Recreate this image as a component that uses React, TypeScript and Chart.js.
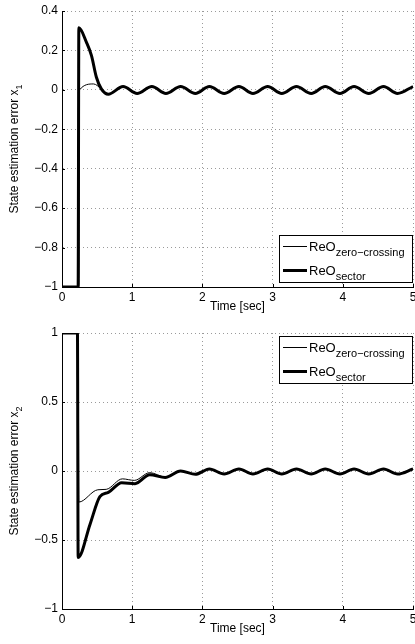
import React, { useEffect, useRef } from "react";
import { Chart, registerables } from "chart.js";

Chart.register(...registerables);

const FONT = '"Liberation Sans", Arial, Helvetica, sans-serif';

// ---- Data ----
const X_TICKS = [0, 1, 2, 3, 4, 5];
const X1_TICKS = [-1, -0.8, -0.6, -0.4, -0.2, 0, 0.2, 0.4];
const X2_TICKS = [-1, -0.5, 0, 0.5, 1];

// State estimation error x1
const X1_SECTOR_T = [0, 0.23, 0.24, 0.35, 0.42, 0.49, 0.56, 0.66, 0.87, 1.07, 1.28, 1.48, 1.69, 1.9, 2.1, 2.31, 2.52, 2.72, 2.93, 3.13, 3.34, 3.55, 3.75, 3.96, 4.16, 4.37, 4.58, 4.78, 5.0];
const X1_SECTOR_V = [-1, -1, 0.315, 0.24, 0.174, 0.064, 0.005, -0.022, 0.017, -0.018, 0.017, -0.018, 0.017, -0.018, 0.017, -0.018, 0.017, -0.018, 0.017, -0.018, 0.017, -0.018, 0.017, -0.018, 0.017, -0.018, 0.017, -0.018, 0.017];
const X1_ZERO_T = [0, 0.24, 0.25, 0.45, 0.56, 0.66, 0.87, 1.07, 1.28, 1.48, 1.69, 1.9, 2.1, 2.31, 2.52, 2.72, 2.93, 3.13, 3.34, 3.55, 3.75, 3.96, 4.16, 4.37, 4.58, 4.78, 5.0];
const X1_ZERO_V = [-1, -1, 0.0, 0.03, 0.005, -0.022, 0.017, -0.018, 0.017, -0.018, 0.017, -0.018, 0.017, -0.018, 0.017, -0.018, 0.017, -0.018, 0.017, -0.018, 0.017, -0.018, 0.017, -0.018, 0.017, -0.018, 0.017];

// State estimation error x2
const X2_SECTOR_T = [0, 0.22, 0.23, 0.4, 0.54, 0.66, 0.85, 1.04, 1.25, 1.47, 1.69, 1.9, 2.1, 2.31, 2.52, 2.72, 2.93, 3.13, 3.34, 3.55, 3.75, 3.96, 4.16, 4.37, 4.58, 4.78, 5.0];
const X2_SECTOR_V = [1, 1, -0.627, -0.385, -0.185, -0.155, -0.085, -0.092, -0.027, -0.047, 0.0, -0.024, 0.015, -0.022, 0.015, -0.022, 0.015, -0.022, 0.015, -0.022, 0.015, -0.022, 0.015, -0.022, 0.015, -0.022, 0.015];
const X2_ZERO_T = [0, 0.23, 0.24, 0.51, 0.63, 0.86, 1.03, 1.25, 1.47, 1.69, 1.9, 2.1, 2.31, 2.52, 2.72, 2.93, 3.13, 3.34, 3.55, 3.75, 3.96, 4.16, 4.37, 4.58, 4.78, 5.0];
const X2_ZERO_V = [1, 1, -0.225, -0.136, -0.133, -0.057, -0.068, -0.012, -0.043, 0.0, -0.024, 0.015, -0.022, 0.015, -0.022, 0.015, -0.022, 0.015, -0.022, 0.015, -0.022, 0.015, -0.022, 0.015, -0.022, 0.015];

const LEGEND_MAIN = "ReO";
const LEGEND_SUBS = ["zero\u2212crossing", "sector"];
const X_TITLE = "Time [sec]";
const Y_TITLE_MAIN = "State estimation error x";

const zip = (t: number[], v: number[]) => t.map((x, i) => ({ x, y: v[i] }));
const fmt = (v: number) => String(Math.round(v * 10) / 10).replace("-", "\u2212");

const inTicksPlugin = {
  id: "inTicks",
  afterDraw(chart: any) {
    const { ctx, chartArea, scales } = chart;
    const xs = scales.x;
    const ys = scales.y;
    ctx.save();
    ctx.strokeStyle = "#000";
    ctx.lineWidth = 1;
    xs.ticks.forEach((t: any) => {
      const px = Math.round(xs.getPixelForValue(t.value)) + 0.5;
      ctx.beginPath();
      ctx.moveTo(px, chartArea.bottom);
      ctx.lineTo(px, chartArea.bottom - 3);
      ctx.stroke();
    });
    ys.ticks.forEach((t: any) => {
      const py = Math.round(ys.getPixelForValue(t.value)) + 0.5;
      ctx.beginPath();
      ctx.moveTo(chartArea.left, py);
      ctx.lineTo(chartArea.left + 3, py);
      ctx.stroke();
    });
    ctx.restore();
  },
};

const yTitlePlugin = {
  id: "yTitleSub",
  afterDraw(chart: any, _args: any, opts: any) {
    const { ctx, chartArea } = chart;
    ctx.save();
    ctx.translate(14, (chartArea.top + chartArea.bottom) / 2);
    ctx.rotate(-Math.PI / 2);
    ctx.fillStyle = "#000";
    ctx.textBaseline = "alphabetic";
    ctx.font = `12px ${FONT}`;
    const wMain = ctx.measureText(Y_TITLE_MAIN).width;
    ctx.font = `9px ${FONT}`;
    const wSub = ctx.measureText(opts.sub).width;
    const x0 = -(wMain + wSub) / 2;
    ctx.font = `12px ${FONT}`;
    ctx.fillText(Y_TITLE_MAIN, x0, 4);
    ctx.font = `9px ${FONT}`;
    ctx.fillText(opts.sub, x0 + wMain, 8);
    ctx.restore();
  },
};

const legendPlugin = {
  id: "subLegend",
  afterDraw(chart: any, _args: any, opts: any) {
    const { ctx, chartArea } = chart;
    const boxW = 134;
    const boxH = 48;
    const left = Math.round(chartArea.right - boxW);
    const top = Math.round(opts.where === "br" ? chartArea.bottom - 4 - boxH : chartArea.top + 3);
    ctx.save();
    ctx.fillStyle = "#fff";
    ctx.fillRect(left, top, boxW, boxH);
    ctx.strokeStyle = "#000";
    ctx.lineWidth = 1;
    ctx.strokeRect(left + 0.5, top + 0.5, boxW - 1, boxH - 1);
    const rows = [top + 11.5, top + 35.5];
    const widths = [1, 3];
    rows.forEach((y, i) => {
      ctx.strokeStyle = "#000";
      ctx.lineWidth = widths[i];
      ctx.beginPath();
      ctx.moveTo(left + 4, y);
      ctx.lineTo(left + 28, y);
      ctx.stroke();
      ctx.fillStyle = "#000";
      ctx.font = `13px ${FONT}`;
      ctx.fillText(LEGEND_MAIN, left + 30, y + 4);
      const w = ctx.measureText(LEGEND_MAIN).width;
      ctx.font = `11px ${FONT}`;
      ctx.fillText(LEGEND_SUBS[i], left + 30 + w, y + 9);
    });
    ctx.restore();
  },
};

function makeConfig(
  sectorT: number[], sectorV: number[], zeroT: number[], zeroV: number[],
  yMin: number, yMax: number, yStep: number, yTicks: number[], sub: string, where: string
): any {
  return {
    type: "line",
    data: {
      datasets: [
        {
          label: "ReO sector",
          data: zip(sectorT, sectorV),
          borderColor: "#000",
          borderWidth: 3,
          pointRadius: 0,
          cubicInterpolationMode: "monotone",
          fill: false,
        },
        {
          label: "ReO zero-crossing",
          data: zip(zeroT, zeroV),
          borderColor: "#000",
          borderWidth: 1,
          pointRadius: 0,
          cubicInterpolationMode: "monotone",
          fill: false,
        },
      ],
    },
    options: {
      animation: false,
      responsive: false,
      maintainAspectRatio: false,
      devicePixelRatio: 1,
      layout: { padding: { top: 11, right: 2, bottom: 8, left: 0 } },
      plugins: {
        legend: { display: false },
        tooltip: { enabled: false },
        yTitleSub: { sub },
        subLegend: { where },
      },
      scales: {
        x: {
          type: "linear",
          min: 0,
          max: 5,
          afterBuildTicks: (s: any) => { s.ticks = X_TICKS.map((v) => ({ value: v })); },
          ticks: { color: "#000", font: { family: FONT, size: 12 }, padding: 3, maxRotation: 0, autoSkip: false, callback: (v: any) => fmt(Number(v)) },
          grid: { color: "#9a9a9a", lineWidth: 1, drawTicks: false },
          border: { display: true, color: "#000", width: 1, dash: [1, 3] },
          title: { display: true, text: X_TITLE, color: "#000", font: { family: FONT, size: 12 }, padding: 0 },
          afterFit: (s: any) => { s.height = 27; s.paddingRight = 0; s.paddingLeft = 0; },
        },
        y: {
          type: "linear",
          min: yMin,
          max: yMax,
          afterBuildTicks: (s: any) => { s.ticks = yTicks.map((v) => ({ value: v })); },
          ticks: { stepSize: yStep, color: "#000", font: { family: FONT, size: 12 }, padding: 4, autoSkip: false, callback: (v: any) => fmt(Number(v)) },
          grid: { color: "#9a9a9a", lineWidth: 1, drawTicks: false },
          border: { display: true, color: "#000", width: 1, dash: [1, 3] },
          afterFit: (s: any) => { s.width = 62; s.paddingTop = 0; s.paddingBottom = 0; },
        },
      },
    },
    plugins: [inTicksPlugin, yTitlePlugin, legendPlugin],
  };
}

function Plot(props: { cfg: () => any; top: number }) {
  const ref = useRef<HTMLCanvasElement | null>(null);
  useEffect(() => {
    if (!ref.current) return;
    const chart = new Chart(ref.current, props.cfg());
    return () => chart.destroy();
  }, []);
  return (
    <canvas
      ref={ref}
      width={415}
      height={322}
      style={{ position: "absolute", left: 0, top: props.top, width: 415, height: 322 }}
    />
  );
}

export default function App() {
  return (
    <div style={{ position: "absolute", left: 0, top: 0, width: 415, height: 644, background: "#fff" }}>
      <Plot
        top={0}
        cfg={() => makeConfig(X1_SECTOR_T, X1_SECTOR_V, X1_ZERO_T, X1_ZERO_V, -1, 0.4, 0.2, X1_TICKS, "1", "br")}
      />
      <Plot
        top={322}
        cfg={() => makeConfig(X2_SECTOR_T, X2_SECTOR_V, X2_ZERO_T, X2_ZERO_V, -1, 1, 0.5, X2_TICKS, "2", "tr")}
      />
    </div>
  );
}
